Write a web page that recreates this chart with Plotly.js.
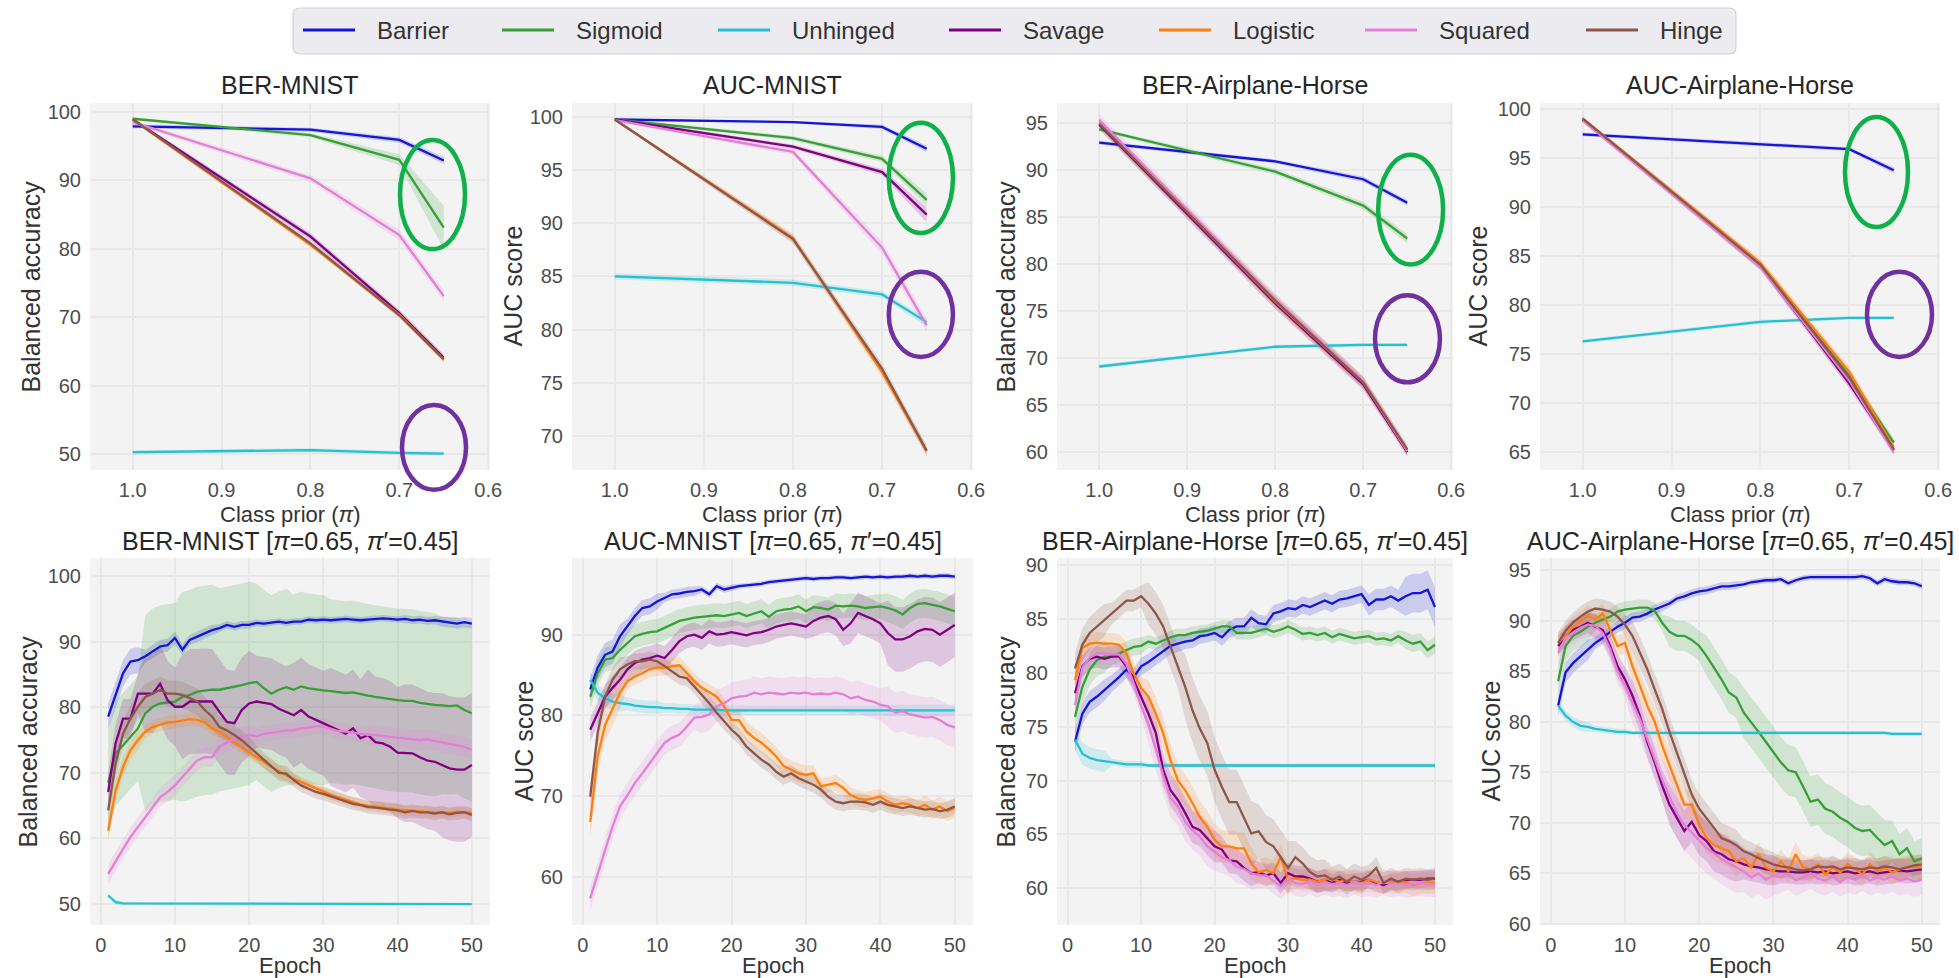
<!DOCTYPE html>
<html>
<head>
<meta charset="utf-8">
<script src="https://cdn.plot.ly/plotly-3.0.1.min.js"></script>
<style>
  html, body { margin: 0; padding: 0; background: #ffffff; }
  #chart { width: 1959px; height: 978px; }
</style>
</head>
<body>
<div id="chart"></div>
<script>
// ---------- series names and colours ----------
const methods = ['Barrier', 'Sigmoid', 'Unhinged', 'Savage', 'Logistic', 'Squared', 'Hinge'];
const methodColors = ['#1515d8', '#36a036', '#26c0d0', '#800080', '#ff7f0e', '#e47fd6', '#8c564b'];

// ---------- top row: score vs. class prior ----------
const priors = [1.0, 0.8, 0.7, 0.65];
const priorTicks = [1.0, 0.9, 0.8, 0.7, 0.6];

// rows follow the order of `methods`
const priorBerMnist = [
  [97.9, 97.4, 95.9, 92.9],
  [99.0, 96.6, 93.0, 83.1],
  [50.3, 50.6, 50.2, 50.1],
  [98.9, 81.8, 70.6, 64.1],
  [98.9, 80.6, 70.4, 63.8],
  [98.5, 90.3, 82.0, 73.1],
  [98.9, 80.8, 70.3, 63.9]
];
const priorBerMnistSd = [
  [0.3, 0.3, 0.4, 0.5], [0.2, 0.3, 0.8, 3.2], [0.3, 0.3, 0.3, 0.3],
  [0.3, 0.5, 0.5, 0.5], [0.3, 0.4, 0.4, 0.4], [0.3, 0.5, 0.8, 0.8], [0.3, 0.4, 0.4, 0.4]
];
const priorAucMnist = [
  [99.75, 99.5, 99.05, 97.0],
  [99.75, 98.0, 96.05, 92.2],
  [85.0, 84.4, 83.3, 80.7],
  [99.75, 97.2, 94.8, 90.8],
  [99.75, 88.6, 76.0, 68.6],
  [99.7, 96.7, 87.7, 80.4],
  [99.75, 88.5, 76.3, 68.6]
];
const priorAucMnistSd = [
  [0.1, 0.1, 0.2, 0.3], [0.1, 0.2, 0.3, 0.6], [0.3, 0.3, 0.3, 0.4],
  [0.1, 0.2, 0.3, 0.7], [0.1, 0.4, 0.5, 0.5], [0.1, 0.3, 0.6, 0.6], [0.1, 0.4, 0.5, 0.5]
];
const priorBerAh = [
  [92.9, 90.9, 89.0, 86.5],
  [94.3, 89.8, 86.2, 82.7],
  [69.1, 71.2, 71.4, 71.4],
  [94.8, 75.8, 67.2, 60.0],
  [95.0, 76.0, 67.4, 60.2],
  [95.3, 76.2, 67.5, 60.1],
  [94.9, 76.1, 67.4, 60.3]
];
const priorBerAhSd = [
  [0.2, 0.2, 0.3, 0.3], [0.2, 0.3, 0.4, 0.5], [0.2, 0.2, 0.2, 0.2],
  [0.5, 0.6, 0.6, 0.5], [0.5, 0.6, 0.6, 0.5], [0.6, 0.7, 0.6, 0.5], [0.5, 0.6, 0.6, 0.5]
];
const priorAucAh = [
  [97.4, 96.4, 95.9, 93.75],
  [99.0, 84.0, 72.8, 66.0],
  [76.3, 78.3, 78.7, 78.7],
  [98.9, 84.0, 72.0, 65.2],
  [99.0, 84.3, 73.2, 65.5],
  [98.8, 83.9, 72.3, 65.0],
  [99.0, 84.1, 72.6, 65.3]
];
const priorAucAhSd = [
  [0.2, 0.2, 0.2, 0.3], [0.2, 0.4, 0.5, 0.4], [0.2, 0.2, 0.2, 0.2],
  [0.2, 0.4, 0.5, 0.4], [0.2, 0.4, 0.5, 0.4], [0.2, 0.4, 0.5, 0.4], [0.2, 0.4, 0.5, 0.4]
];

// ---------- bottom row: score per training epoch ----------
const epochs = Array.from({length: 50}, (_, i) => i + 1);
const epochTicks = [0, 10, 20, 30, 40, 50];

const epochBerMnist = [
  [78.6, 82.0, 85.2, 87.0, 87.2, 87.8, 88.5, 89.3, 89.5, 90.6, 88.8, 90.3, 90.8, 91.3, 91.8, 92.1, 92.6, 92.3, 92.6, 92.6,
   92.9, 92.8, 93.0, 93.1, 92.9, 93.1, 93.1, 93.4, 93.3, 93.4, 93.3, 93.4, 93.5, 93.4, 93.3, 93.4, 93.5, 93.6, 93.5, 93.4,
   93.5, 93.3, 93.4, 93.2, 93.3, 93.1, 93.0, 92.8, 93.0, 92.8],
  [68.5, 73.0, 74.2, 75.5, 76.8, 79.1, 80.1, 80.6, 80.7, 80.9, 81.6, 81.9, 82.4, 82.6, 82.7, 82.7, 82.9, 83.1, 83.4, 83.7,
   83.9, 82.9, 82.1, 82.7, 83.1, 82.7, 83.2, 82.9, 82.7, 82.6, 82.5, 82.4, 82.2, 82.3, 82.0, 81.8, 81.6, 81.4, 81.2, 81.1,
   81.0, 81.0, 80.7, 80.5, 80.4, 80.3, 80.2, 80.3, 79.6, 79.1],
  [51.3, 50.3, 50.1, 50.1, 50.0, 50.0, 50.0, 50.0, 50.0, 50.0, 50.0, 50.0, 50.0, 50.0, 50.0, 50.0, 50.0, 50.0, 50.0, 50.0,
   50.0, 50.0, 50.0, 50.0, 50.0, 50.0, 50.0, 50.0, 50.0, 50.0, 50.0, 50.0, 50.0, 50.0, 50.0, 50.0, 50.0, 50.0, 50.0, 50.0,
   50.0, 50.0, 50.0, 50.0, 50.0, 50.0, 50.0, 50.0, 50.0, 50.0],
  [67.1, 74.5, 78.3, 78.3, 82.1, 82.1, 82.1, 83.6, 81.1, 80.1, 80.1, 80.9, 80.9, 81.0, 80.9, 79.3, 77.8, 77.6, 79.6, 80.6,
   80.9, 80.7, 80.5, 79.8, 79.3, 78.8, 79.6, 78.6, 78.1, 77.6, 77.0, 76.5, 76.0, 76.8, 75.3, 75.8, 74.7, 74.5, 74.0, 73.1,
   73.0, 73.0, 72.4, 71.9, 71.7, 71.2, 70.7, 70.5, 70.5, 71.2],
  [61.2, 67.3, 70.9, 73.5, 75.0, 76.3, 77.0, 77.4, 77.7, 77.8, 78.0, 78.2, 78.1, 77.7, 76.8, 76.3, 75.5, 74.7, 74.0, 73.2,
   72.4, 71.7, 70.9, 70.3, 69.6, 69.1, 68.6, 68.1, 67.6, 67.1, 66.7, 66.3, 65.9, 65.6, 65.2, 65.0, 64.9, 64.7, 64.6, 64.4,
   64.3, 64.2, 64.2, 64.1, 64.0, 64.0, 63.9, 64.1, 64.0, 63.9],
  [54.6, 56.6, 58.4, 60.2, 61.7, 63.3, 64.8, 66.3, 67.1, 68.1, 69.4, 70.7, 71.9, 72.4, 72.4, 74.0, 74.7, 75.3, 75.5, 75.8,
   75.6, 76.0, 76.1, 76.3, 76.5, 76.5, 76.8, 76.9, 77.1, 77.1, 76.8, 76.4, 76.3, 76.1, 75.9, 75.8, 75.8, 75.6, 75.5, 75.4,
   75.3, 75.1, 75.0, 75.1, 74.9, 74.7, 74.5, 74.2, 74.0, 73.5],
  [64.3, 71.4, 76.0, 78.3, 80.1, 81.6, 82.1, 82.7, 82.1, 82.1, 81.9, 81.4, 80.9, 79.6, 78.6, 77.0, 76.5, 75.8, 75.0, 74.0,
   73.0, 71.9, 70.9, 70.0, 69.9, 68.9, 68.1, 67.6, 67.1, 66.8, 66.4, 66.1, 65.7, 65.3, 65.1, 64.8, 64.7, 64.5, 64.4, 64.3,
   64.0, 64.2, 64.0, 64.0, 63.8, 64.0, 63.7, 63.9, 64.0, 63.6]
];
// spread per 5-epoch block (epochs 1-5, 6-10, ..., 46-50)
const epochBerMnistSd = [
  [2.0, 1.0, 0.8, 0.6, 0.5, 0.5, 0.5, 0.5, 0.6, 0.8],
  [8.0, 15.0, 16.0, 15.5, 15.0, 14.5, 14.0, 14.0, 14.0, 13.5],
  [0.3, 0.2, 0.2, 0.2, 0.2, 0.2, 0.2, 0.2, 0.2, 0.2],
  [3.0, 6.0, 8.0, 8.0, 7.0, 8.0, 9.0, 10.0, 10.5, 11.0],
  [1.5, 1.0, 1.0, 1.0, 1.0, 0.8, 0.8, 0.8, 0.8, 0.8],
  [1.5, 1.5, 1.5, 1.5, 1.2, 1.2, 1.2, 1.5, 1.5, 1.5],
  [2.0, 2.0, 2.0, 1.5, 1.2, 1.0, 1.0, 1.0, 1.0, 1.0]
];

const epochAucMnist = [
  [83.2, 85.9, 87.5, 87.9, 89.8, 91.0, 92.3, 93.3, 93.5, 94.1, 94.6, 95.0, 95.1, 95.3, 95.4, 95.6, 95.0, 96.0, 95.6, 95.8,
   96.0, 96.1, 96.2, 96.3, 96.5, 96.6, 96.7, 96.8, 96.9, 97.0, 96.9, 97.0, 97.0, 97.1, 97.1, 97.0, 97.1, 97.2, 97.1, 97.2,
   97.1, 97.2, 97.2, 97.3, 97.2, 97.3, 97.2, 97.3, 97.3, 97.2],
  [82.3, 85.2, 86.9, 87.1, 88.1, 89.0, 89.8, 90.1, 90.3, 90.4, 90.8, 91.2, 91.7, 91.9, 92.1, 92.2, 92.3, 92.4, 92.3, 92.5,
   92.7, 92.3, 92.6, 92.9, 92.2, 92.9, 93.1, 93.2, 93.5, 92.9, 93.4, 93.3, 93.1, 93.6, 93.5, 93.6, 93.5, 93.3, 93.4, 93.5,
   93.3, 93.0, 92.5, 93.3, 93.8, 93.9, 93.7, 93.5, 93.2, 92.9],
  [84.4, 82.8, 82.1, 81.7, 81.5, 81.4, 81.2, 81.1, 81.0, 81.0, 80.9, 80.9, 80.8, 80.8, 80.7, 80.7, 80.7, 80.7, 80.6, 80.6,
   80.6, 80.6, 80.6, 80.6, 80.6, 80.6, 80.6, 80.6, 80.6, 80.6, 80.6, 80.6, 80.6, 80.6, 80.6, 80.6, 80.6, 80.6, 80.6, 80.6,
   80.6, 80.6, 80.6, 80.6, 80.6, 80.6, 80.6, 80.6, 80.6, 80.6],
  [78.2, 80.3, 82.3, 83.4, 84.4, 85.7, 86.5, 86.9, 87.1, 87.4, 87.1, 88.1, 89.2, 89.8, 90.0, 89.6, 90.4, 90.0, 90.1, 90.3,
   90.1, 89.9, 90.2, 90.3, 90.6, 91.0, 91.2, 91.4, 91.2, 91.0, 91.7, 92.1, 92.3, 91.9, 90.6, 91.4, 92.7, 92.3, 91.9, 91.4,
   90.2, 89.4, 89.4, 89.8, 90.4, 90.7, 90.6, 90.0, 90.6, 91.2],
  [66.8, 74.9, 78.8, 80.7, 82.8, 84.2, 84.8, 85.2, 85.7, 85.9, 85.9, 86.1, 86.2, 85.2, 84.2, 83.4, 82.8, 82.3, 81.1, 79.4,
   79.4, 78.0, 77.2, 76.6, 75.8, 74.9, 73.7, 73.2, 72.8, 72.6, 72.8, 71.2, 71.4, 71.6, 71.0, 70.1, 69.7, 69.5, 69.7, 69.9,
   69.3, 68.9, 69.1, 68.9, 68.5, 68.9, 68.3, 68.7, 68.1, 68.5],
  [57.3, 60.4, 63.3, 66.2, 68.7, 70.1, 71.6, 72.8, 74.1, 75.3, 76.6, 77.2, 77.6, 78.6, 79.7, 79.8, 80.1, 81.1, 81.5, 82.1,
   82.3, 82.4, 82.8, 82.6, 82.8, 82.7, 82.6, 82.8, 82.7, 82.8, 82.6, 82.7, 82.6, 82.8, 82.6, 82.1, 82.3, 81.9, 81.7, 81.3,
   81.1, 80.3, 80.5, 80.1, 79.9, 79.7, 79.8, 79.4, 78.8, 78.5],
  [69.9, 77.8, 82.3, 84.4, 85.7, 86.3, 86.7, 86.7, 86.9, 86.7, 86.1, 85.4, 84.8, 84.6, 83.6, 82.6, 81.5, 80.3, 79.2, 78.2,
   77.4, 76.1, 75.3, 74.5, 73.9, 73.0, 72.4, 72.8, 72.2, 71.8, 71.4, 70.8, 69.9, 69.3, 69.1, 69.3, 69.3, 69.2, 68.9, 69.3,
   68.9, 68.7, 68.5, 68.7, 68.5, 68.3, 68.4, 68.1, 68.3, 68.7]
];
const epochAucMnistSd = [
  [1.5, 1.0, 0.6, 0.4, 0.3, 0.3, 0.3, 0.3, 0.3, 0.3],
  [1.5, 1.5, 1.5, 1.5, 1.5, 1.5, 1.5, 1.5, 1.8, 1.8],
  [1.0, 0.8, 0.6, 0.6, 0.6, 0.6, 0.6, 0.6, 0.7, 0.7],
  [1.5, 1.5, 1.5, 1.5, 1.5, 1.5, 2.0, 2.5, 4.0, 4.0],
  [2.0, 1.0, 1.0, 1.0, 1.2, 1.2, 1.0, 1.0, 1.0, 1.2],
  [1.5, 1.5, 1.5, 2.0, 2.0, 2.0, 2.0, 2.0, 2.5, 2.5],
  [1.5, 1.0, 1.0, 1.0, 1.0, 1.0, 1.0, 1.0, 1.0, 1.0]
];

const epochBerAh = [
  [73.6, 76.2, 77.3, 77.8, 78.4, 79.0, 79.6, 80.3, 79.6, 80.6, 81.0, 81.5, 82.0, 82.5, 82.7, 82.9, 83.0, 83.4, 83.5, 83.7,
   83.3, 84.0, 84.3, 84.3, 85.1, 84.6, 84.5, 85.5, 85.7, 86.0, 85.9, 86.3, 86.1, 86.4, 86.7, 86.4, 86.8, 86.9, 87.1, 87.3,
   86.3, 86.8, 86.8, 87.1, 86.7, 87.1, 87.4, 87.4, 87.7, 86.1],
  [75.9, 78.7, 80.3, 81.2, 81.5, 81.5, 81.8, 82.1, 82.4, 82.5, 82.9, 82.7, 83.0, 83.3, 83.5, 83.5, 83.7, 83.8, 83.9, 84.1,
   84.3, 84.3, 83.7, 83.7, 83.7, 83.9, 84.1, 83.8, 84.0, 84.3, 84.0, 83.6, 83.7, 83.5, 83.7, 83.3, 83.6, 83.4, 83.2, 83.3,
   83.4, 83.1, 83.2, 83.0, 83.4, 83.0, 82.7, 82.9, 82.1, 82.6],
  [73.8, 72.5, 72.1, 71.9, 71.8, 71.7, 71.6, 71.5, 71.5, 71.5, 71.4, 71.4, 71.4, 71.4, 71.4, 71.4, 71.4, 71.4, 71.4, 71.4,
   71.4, 71.4, 71.4, 71.4, 71.4, 71.4, 71.4, 71.4, 71.4, 71.4, 71.4, 71.4, 71.4, 71.4, 71.4, 71.4, 71.4, 71.4, 71.4, 71.4,
   71.4, 71.4, 71.4, 71.4, 71.4, 71.4, 71.4, 71.4, 71.4, 71.4],
  [78.1, 80.6, 81.3, 81.5, 81.3, 81.5, 81.5, 80.6, 79.3, 77.8, 76.2, 74.4, 71.0, 69.1, 68.2, 67.0, 65.7, 65.4, 64.6, 63.9,
   63.6, 62.6, 62.5, 61.9, 61.4, 61.5, 61.2, 61.4, 60.5, 61.4, 61.1, 61.1, 60.9, 60.6, 60.8, 60.5, 60.8, 60.5, 60.6, 60.6,
   60.8, 60.5, 60.3, 60.6, 60.6, 60.8, 60.8, 60.8, 60.9, 60.9],
  [79.3, 82.3, 82.7, 82.8, 82.7, 82.7, 82.6, 81.8, 79.9, 78.6, 77.8, 76.2, 74.4, 71.9, 70.0, 69.1, 67.9, 66.6, 65.7, 64.5,
   63.9, 63.9, 63.7, 63.7, 62.3, 61.5, 61.7, 61.4, 62.9, 60.8, 60.9, 60.8, 60.8, 60.6, 60.8, 60.9, 60.6, 60.8, 60.6, 60.5,
   60.8, 60.6, 60.5, 60.6, 60.5, 60.6, 60.3, 60.5, 60.5, 60.5],
  [77.0, 80.5, 81.4, 81.8, 81.8, 81.7, 81.7, 80.8, 79.0, 76.9, 75.2, 72.8, 70.5, 68.4, 67.6, 66.2, 65.4, 64.8, 63.9, 63.4,
   62.9, 62.6, 62.0, 61.8, 61.4, 61.2, 61.2, 60.7, 60.2, 60.9, 60.5, 60.4, 60.7, 60.3, 60.6, 60.4, 60.5, 60.3, 60.6, 60.4,
   60.5, 60.3, 60.6, 60.4, 60.5, 60.3, 60.4, 60.5, 60.4, 60.4],
  [80.4, 82.6, 83.7, 84.3, 84.9, 85.5, 86.1, 86.7, 86.7, 87.1, 86.4, 85.5, 84.3, 82.4, 80.6, 78.7, 76.5, 74.8, 73.5, 71.0,
   69.4, 68.0, 68.0, 66.6, 65.1, 65.3, 64.3, 63.9, 62.9, 61.9, 62.9, 62.3, 61.5, 61.1, 61.2, 60.8, 61.1, 60.6, 61.1, 60.8,
   61.2, 61.9, 60.5, 60.9, 60.6, 60.9, 60.8, 60.9, 60.8, 60.9]
];
const epochBerAhSd = [
  [1.0, 0.8, 0.8, 0.7, 0.8, 0.8, 0.8, 0.8, 1.0, 1.8],
  [1.5, 0.8, 0.6, 0.6, 0.6, 0.6, 0.6, 0.6, 0.6, 0.8],
  [1.0, 0.3, 0.2, 0.2, 0.2, 0.2, 0.2, 0.2, 0.2, 0.2],
  [1.0, 1.0, 1.5, 1.5, 1.2, 1.0, 1.0, 0.8, 0.8, 0.8],
  [1.0, 1.0, 1.5, 1.5, 1.5, 1.2, 1.0, 1.0, 1.0, 1.0],
  [1.0, 1.0, 1.8, 1.8, 1.5, 1.2, 1.2, 1.2, 1.2, 1.2],
  [1.5, 1.0, 2.0, 3.0, 3.0, 2.5, 1.5, 1.2, 1.0, 1.0]
];

const epochAucAh = [
  [81.6, 84.9, 85.8, 86.5, 87.1, 87.8, 88.3, 88.9, 89.4, 89.8, 90.3, 90.4, 90.7, 91.1, 91.4, 91.7, 92.2, 92.4, 92.7, 92.9,
   93.0, 93.2, 93.4, 93.4, 93.5, 93.6, 93.8, 93.9, 94.0, 94.0, 94.1, 93.7, 94.0, 94.2, 94.3, 94.3, 94.3, 94.3, 94.3, 94.3,
   94.3, 94.4, 94.2, 93.7, 94.1, 93.9, 93.8, 93.8, 93.7, 93.4],
  [84.0, 87.5, 88.5, 88.9, 89.4, 89.8, 90.1, 90.4, 90.9, 91.1, 91.2, 91.3, 91.3, 91.0, 89.8, 88.9, 88.5, 88.5, 88.1, 87.5,
   86.5, 85.4, 84.2, 82.9, 82.4, 80.9, 80.0, 79.0, 78.0, 77.0, 76.0, 75.2, 75.0, 73.6, 72.1, 72.3, 71.4, 71.1, 70.5, 70.1,
   69.5, 69.2, 69.3, 68.5, 67.8, 68.2, 66.9, 67.5, 66.2, 66.5],
  [81.6, 80.6, 80.0, 79.6, 79.5, 79.3, 79.2, 79.1, 79.0, 79.0, 78.9, 78.9, 78.9, 78.9, 78.9, 78.9, 78.9, 78.9, 78.9, 78.9,
   78.9, 78.9, 78.9, 78.9, 78.9, 78.9, 78.9, 78.9, 78.9, 78.9, 78.9, 78.9, 78.9, 78.9, 78.9, 78.9, 78.9, 78.9, 78.9, 78.9,
   78.9, 78.9, 78.9, 78.9, 78.9, 78.8, 78.8, 78.8, 78.8, 78.8],
  [87.5, 88.5, 89.1, 89.4, 89.8, 89.4, 89.1, 87.5, 85.5, 84.2, 82.6, 80.6, 78.0, 76.0, 73.7, 71.8, 70.5, 69.2, 70.1, 68.8,
   68.2, 67.2, 66.9, 66.4, 66.2, 65.9, 65.7, 65.6, 65.4, 65.3, 65.2, 65.2, 65.1, 65.1, 65.2, 65.1, 65.2, 65.0, 65.1, 65.2,
   65.0, 65.1, 65.2, 65.0, 65.1, 65.2, 65.3, 65.2, 65.3, 65.4],
  [87.8, 88.5, 89.4, 89.9, 90.5, 90.1, 90.7, 89.1, 87.5, 87.8, 85.5, 83.6, 81.6, 80.0, 77.7, 75.7, 73.7, 71.8, 71.8, 69.8,
   68.5, 67.8, 67.5, 67.2, 66.2, 66.5, 65.6, 66.9, 65.6, 65.2, 66.2, 65.2, 66.9, 65.6, 65.4, 65.9, 64.9, 65.6, 65.1, 65.9,
   65.4, 64.9, 65.9, 65.2, 65.6, 65.1, 65.4, 65.6, 65.7, 65.6],
  [86.8, 88.3, 88.8, 89.3, 89.6, 89.5, 88.8, 87.2, 85.0, 83.6, 81.9, 80.3, 78.3, 76.2, 74.3, 72.6, 71.0, 69.8, 69.0, 68.2,
   67.5, 67.0, 66.4, 66.0, 65.6, 65.2, 64.6, 65.0, 64.4, 64.8, 64.6, 64.9, 64.3, 64.6, 65.0, 64.5, 64.3, 64.7, 64.2, 64.6,
   64.4, 64.8, 64.3, 64.6, 64.4, 64.7, 64.3, 64.5, 64.2, 64.4],
  [87.8, 89.0, 89.8, 90.4, 90.9, 91.2, 91.1, 90.9, 90.4, 89.6, 88.5, 86.8, 85.2, 83.2, 81.3, 79.0, 77.0, 75.0, 72.8, 71.4,
   70.5, 69.5, 68.5, 68.2, 67.8, 67.2, 66.9, 66.5, 66.2, 65.9, 65.7, 65.6, 65.4, 65.3, 65.4, 65.7, 65.6, 65.7, 65.4, 65.6,
   65.5, 65.4, 65.6, 65.5, 65.7, 65.6, 65.4, 65.6, 65.8, 65.9]
];
const epochAucAhSd = [
  [1.0, 0.6, 0.5, 0.4, 0.4, 0.3, 0.3, 0.3, 0.3, 0.3],
  [1.5, 0.8, 0.8, 1.5, 2.0, 2.5, 2.5, 2.5, 2.5, 2.0],
  [0.5, 0.3, 0.2, 0.2, 0.2, 0.2, 0.2, 0.2, 0.2, 0.2],
  [1.0, 1.2, 1.5, 2.0, 2.0, 1.5, 1.2, 1.2, 1.2, 1.2],
  [1.0, 1.0, 1.5, 1.5, 1.5, 1.2, 1.2, 1.2, 1.2, 1.2],
  [1.2, 1.2, 2.0, 2.5, 2.5, 2.0, 1.5, 1.5, 1.5, 1.5],
  [1.0, 1.0, 1.5, 1.5, 1.5, 1.2, 1.0, 1.0, 1.0, 1.0]
];

// ---------- figure geometry (pixels) ----------
const W = 1959, H = 978;
const FONT = '"Liberation Sans", Arial, Helvetica, sans-serif';
const colPx = [[90, 490], [572, 973], [1057, 1453], [1540, 1940]];
const rowPx = [[103, 470], [558, 925]];
const px2x = p => p / W;
const px2y = p => 1 - p / H;

const BER = 'Balanced accuracy', AUC = 'AUC score';
const PRIOR_TITLE = 'Class prior (<i>π</i>)';
const EPOCH_TITLE = 'Epoch';
const SUFFIX = ' [<i>π</i>=0.65, <i>π</i>′=0.45]';

const panels = [
  {title: 'BER-MNIST', ytitle: BER, mean: priorBerMnist, sd: priorBerMnistSd, xs: priors, block: 1,
   yrange: [47.7, 101.3], ydtick: 10, ytitleX: 30},
  {title: 'AUC-MNIST', ytitle: AUC, mean: priorAucMnist, sd: priorAucMnistSd, xs: priors, block: 1,
   yrange: [66.8, 101.3], ydtick: 5, ytitleX: 512},
  {title: 'BER-Airplane-Horse', ytitle: BER, mean: priorBerAh, sd: priorBerAhSd, xs: priors, block: 1,
   yrange: [58.1, 97.1], ydtick: 5, ytitleX: 1005},
  {title: 'AUC-Airplane-Horse', ytitle: AUC, mean: priorAucAh, sd: priorAucAhSd, xs: priors, block: 1,
   yrange: [63.2, 100.6], ydtick: 5, ytitleX: 1477},
  {title: 'BER-MNIST' + SUFFIX, ytitle: BER, mean: epochBerMnist, sd: epochBerMnistSd, xs: epochs, block: 5,
   yrange: [46.8, 102.8], ydtick: 10, ytitleX: 27},
  {title: 'AUC-MNIST' + SUFFIX, ytitle: AUC, mean: epochAucMnist, sd: epochAucMnistSd, xs: epochs, block: 5,
   yrange: [54.0, 99.5], ydtick: 10, ytitleX: 523},
  {title: 'BER-Airplane-Horse' + SUFFIX, ytitle: BER, mean: epochBerAh, sd: epochBerAhSd, xs: epochs, block: 5,
   yrange: [56.6, 90.65], ydtick: 5, ytitleX: 1005},
  {title: 'AUC-Airplane-Horse' + SUFFIX, ytitle: AUC, mean: epochAucAh, sd: epochAucAhSd, xs: epochs, block: 5,
   yrange: [59.9, 96.2], ydtick: 5, ytitleX: 1490}
];

// circled regions: [panel, colour, x0, x1, y0, y1] in fractions of the subplot area
const GREEN_MARK = '#0fb04a', PURPLE_MARK = '#7030a0';
const highlights = [
  [0, GREEN_MARK, 0.775, 0.9375, 0.602, 0.899],
  [0, PURPLE_MARK, 0.780, 0.940, -0.054, 0.177],
  [1, GREEN_MARK, 0.790, 0.950, 0.646, 0.946],
  [1, PURPLE_MARK, 0.790, 0.950, 0.308, 0.540],
  [2, GREEN_MARK, 0.811, 0.975, 0.560, 0.859],
  [2, PURPLE_MARK, 0.803, 0.967, 0.239, 0.476],
  [3, GREEN_MARK, 0.7625, 0.920, 0.662, 0.962],
  [3, PURPLE_MARK, 0.8175, 0.980, 0.308, 0.540]
];

function rgba(hex, a) {
  const n = parseInt(hex.slice(1), 16);
  return `rgba(${(n >> 16) & 255},${(n >> 8) & 255},${n & 255},${a})`;
}

const traces = [];
const layout = {
  width: W, height: H,
  margin: {l: 0, r: 0, t: 0, b: 0},
  paper_bgcolor: '#ffffff',
  plot_bgcolor: '#f3f3f3',
  showlegend: false,
  font: {family: FONT, color: '#333333'},
  annotations: [],
  shapes: []
};

panels.forEach((p, k) => {
  const row = k < 4 ? 0 : 1, col = k % 4;
  const sfx = k === 0 ? '' : String(k + 1);
  const xa = 'x' + sfx, ya = 'y' + sfx;
  const isPrior = row === 0;

  // shaded spread first, lines on top
  methods.forEach((m, i) => {
    const up = [], lo = [];
    p.xs.forEach((x, j) => {
      const s = p.sd[i][Math.floor(j / p.block)];
      up.push(p.mean[i][j] + s);
      lo.push(p.mean[i][j] - s);
    });
    traces.push({
      x: p.xs.concat(p.xs.slice().reverse()),
      y: up.concat(lo.reverse()),
      xaxis: xa, yaxis: ya,
      mode: 'lines', fill: 'toself',
      fillcolor: rgba(methodColors[i], 0.18),
      line: {width: 0, color: 'rgba(0,0,0,0)'},
      hoverinfo: 'skip', showlegend: false
    });
  });
  methods.forEach((m, i) => {
    traces.push({
      x: p.xs, y: p.mean[i], name: m,
      xaxis: xa, yaxis: ya,
      mode: 'lines',
      line: {color: methodColors[i], width: 2.3},
      showlegend: false
    });
  });

  const axBase = {
    showgrid: true, gridcolor: '#e8e8e8', gridwidth: 2,
    zeroline: false, showline: false, ticks: '',
    tickfont: {family: FONT, size: 20, color: '#4d4d4d'},
    fixedrange: true
  };
  layout['xaxis' + sfx] = Object.assign({}, axBase, {
    domain: [px2x(colPx[col][0]), px2x(colPx[col][1])],
    anchor: ya,
    range: isPrior ? [1.048, 0.598] : [-1.45, 52.45],
    tickvals: isPrior ? priorTicks : epochTicks,
    tickformat: isPrior ? '.1f' : 'd',
    ticklabelstandoff: 6
  });
  layout['yaxis' + sfx] = Object.assign({}, axBase, {
    domain: [px2y(rowPx[row][1]), px2y(rowPx[row][0])],
    anchor: xa,
    range: p.yrange,
    dtick: p.ydtick, tick0: 0,
    ticklabelstandoff: 8
  });

  const cx = (colPx[col][0] + colPx[col][1]) / 2;
  const cy = (rowPx[row][0] + rowPx[row][1]) / 2;
  // subplot title
  layout.annotations.push({
    text: p.title, xref: 'paper', yref: 'paper',
    x: px2x(cx), y: px2y(row === 0 ? 85 : 541),
    xanchor: 'center', yanchor: 'middle', showarrow: false,
    font: {family: FONT, size: 25, color: '#262626'}
  });
  // x-axis title
  layout.annotations.push({
    text: isPrior ? PRIOR_TITLE : EPOCH_TITLE, xref: 'paper', yref: 'paper',
    x: px2x(cx), y: px2y(row === 0 ? 514 : 965),
    xanchor: 'center', yanchor: 'middle', showarrow: false,
    font: {family: FONT, size: 22, color: '#333333'}
  });
  // y-axis title
  layout.annotations.push({
    text: p.ytitle, xref: 'paper', yref: 'paper',
    x: px2x(p.ytitleX), y: px2y(cy), textangle: -90,
    xanchor: 'center', yanchor: 'middle', showarrow: false,
    font: {family: FONT, size: 25, color: '#333333'}
  });
});

// hand-drawn style circles around the low-prior end of the top row
highlights.forEach(([k, color, x0, x1, y0, y1]) => {
  const sfx = k === 0 ? '' : String(k + 1);
  layout.shapes.push({
    type: 'circle', layer: 'above',
    xref: 'x' + sfx + ' domain', yref: 'y' + sfx + ' domain',
    x0, x1, y0, y1,
    line: {color, width: 4.5}, fillcolor: 'rgba(0,0,0,0)'
  });
});

// shared legend across the top
const legendBox = {l: 293, r: 1736, t: 8, b: 54, rad: 7};
const legendLineX = [303, 502, 718, 949, 1159, 1365, 1586];
const legendLineLen = 52, legendTextGap = 72, legendY = 30;
(function () {
  const {l, r, t, b, rad} = legendBox;
  const X = px2x, Y = px2y;
  const path = `M${X(l + rad)},${Y(t)} L${X(r - rad)},${Y(t)} Q${X(r)},${Y(t)} ${X(r)},${Y(t + rad)} ` +
    `L${X(r)},${Y(b - rad)} Q${X(r)},${Y(b)} ${X(r - rad)},${Y(b)} L${X(l + rad)},${Y(b)} ` +
    `Q${X(l)},${Y(b)} ${X(l)},${Y(b - rad)} L${X(l)},${Y(t + rad)} Q${X(l)},${Y(t)} ${X(l + rad)},${Y(t)} Z`;
  layout.shapes.push({type: 'path', xref: 'paper', yref: 'paper', path,
    fillcolor: '#ebebf0', line: {color: '#d2d2d6', width: 1.2}, layer: 'below'});
  methods.forEach((m, i) => {
    layout.shapes.push({type: 'line', xref: 'paper', yref: 'paper',
      x0: X(legendLineX[i]), x1: X(legendLineX[i] + legendLineLen), y0: Y(legendY), y1: Y(legendY),
      line: {color: methodColors[i], width: 2.8}});
    layout.annotations.push({text: m, xref: 'paper', yref: 'paper',
      x: X(legendLineX[i] + legendTextGap), y: Y(legendY + 1),
      xanchor: 'left', yanchor: 'middle', showarrow: false,
      font: {family: FONT, size: 24, color: '#333333'}});
  });
})();

Plotly.newPlot('chart', traces, layout, {displayModeBar: false, staticPlot: true});
</script>
</body>
</html>
